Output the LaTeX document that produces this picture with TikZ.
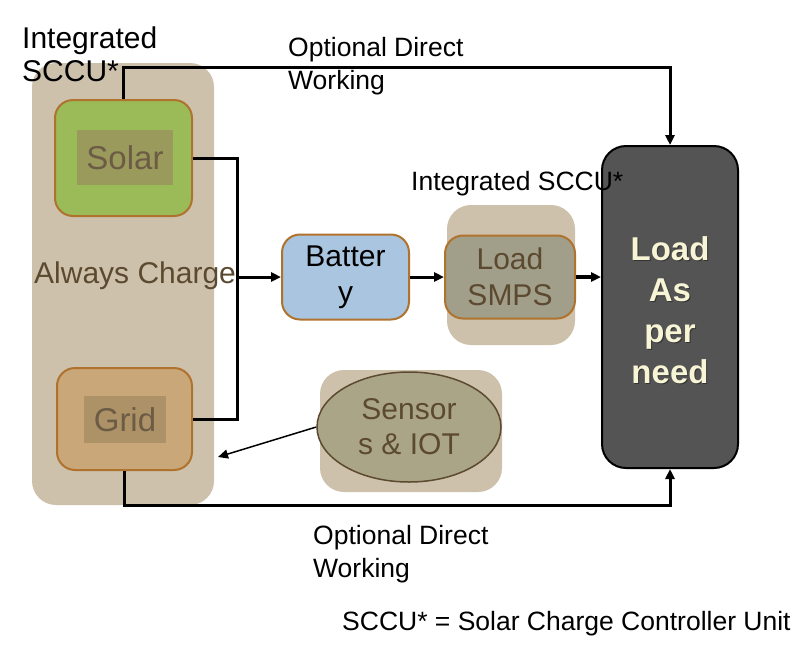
\documentclass[tikz,border=0pt]{standalone}
\usepackage{fontspec}
\setmainfont{Liberation Sans}
\usetikzlibrary{arrows.meta,shapes.geometric}
\definecolor{tan}{HTML}{CDC1AC}
\definecolor{boxedge}{HTML}{B0732E}
\definecolor{solarfill}{HTML}{9BBB59}
\definecolor{solarin}{HTML}{9A9A5C}
\definecolor{gridfill}{HTML}{C9A778}
\definecolor{gridin}{HTML}{AC9266}
\definecolor{battfill}{HTML}{A9C5DF}
\definecolor{smpsfill}{HTML}{A19E8A}
\definecolor{iotfill}{HTML}{ABA587}
\definecolor{darkbrown}{HTML}{5C4A30}
\definecolor{cream}{HTML}{F8F4D6}

\begin{document}
\begin{tikzpicture}[x=1pt,y=-1pt]
	\tikzset{
		group/.style={fill=tan,rounded corners=24pt,inner sep=0pt},
		box/.style={draw=boxedge,line width=2pt,rounded corners=18pt,inner sep=0pt,
			font=\fontsize{30}{36}\selectfont,align=center},
		inbox/.style={inner sep=0pt,font=\fontsize{33}{38}\selectfont,text=darkbrown!90},
		lbl/.style={inner sep=0pt,font=\fontsize{26.5}{33}\selectfont,align=left},
		wire/.style={line width=3pt},
		arr/.style={wire,-{Triangle[length=10pt,width=9pt]}}
	}
	\useasboundingbox (0,0) rectangle (793,657);
	% background groups
	\node[group,minimum width=182pt,minimum height=442pt] (sccu) at (123,284) {};
	\node[group,minimum width=128pt,minimum height=140pt] (smpsgroup) at (511,275) {};
	\node[group,minimum width=182pt,minimum height=122pt] (iotgroup) at (411,431) {};
	% blocks
	\node[box,fill=solarfill,minimum width=137pt,minimum height=116pt] (solar) at (123.5,158) {};
	\node[inbox,fill=solarin,minimum width=96pt,minimum height=55pt] (solartxt) at (125,157.5) {Solar};
	\node[box,fill=gridfill,minimum width=135pt,minimum height=102pt] (grid) at (124.5,419) {};
	\node[inbox,fill=gridin,minimum width=82pt,minimum height=47pt] (gridtxt) at (125,419.5) {Grid};
	\node[box,fill=battfill,minimum width=127pt,minimum height=85pt] (battery) at (345.5,277) {Batter\\y};
	\node[box,fill=smpsfill,text=darkbrown,minimum width=130pt,minimum height=83pt] (smps) at (510,277) {Load\\SMPS};
	\node[ellipse,draw=darkbrown,line width=1.5pt,fill=iotfill,text=darkbrown,minimum width=184pt,minimum height=110pt,
		inner sep=0pt,align=center,font=\fontsize{30}{35}\selectfont] (iot) at (409,427) {Sensor\\s \& IOT};
	\node[draw=black,line width=2pt,fill=black!67,rounded corners=24pt,minimum width=136pt,minimum height=322pt] (load) at (670,307) {};
	\node[text=black!80,align=center,font=\fontsize{33}{41}\bfseries] (loadshadow) at (671,311) {Load\\As\\per\\need};
	\node[text=cream,align=center,font=\fontsize{33}{41}\bfseries] (loadtxt) at (670,310) {Load\\As\\per\\need};
	% connectors
	\coordinate (bus) at (237,277);
	\coordinate (iotend) at (218,457);
	\draw[arr] (solar.north) -- ++(0,-32) -| (load.north);
	\draw[wire] (solar.east) -| (bus) |- (grid.east);
	\draw[arr] (bus) -- (battery.west);
	\draw[arr] (battery.east) -- (smps.west);
	\draw[arr,line width=4.5pt] (smps.east) -- (smps.east -| load.west);
	\draw[-{Triangle[length=10pt,width=9pt]},line width=1.5pt] (iot.west) -- (iotend);
	\draw[arr] (grid.south) -- ++(0,34) -| (load.south);
	% texts
	\node[lbl,anchor=north west,font=\fontsize{30}{33}\selectfont] (sccutitle) at (22,27) {Integrated\\SCCU*};
	\node[lbl,anchor=north west] (toplbl) at (288,37) {Optional Direct\\Working};
	\node[lbl,anchor=north west] (botlbl) at (313,525) {Optional Direct\\Working};
	\node[lbl,anchor=west] (smpslbl) at (411,184) {Integrated SCCU*};
	\node[lbl,anchor=west,text=darkbrown,font=\fontsize{30}{33}\selectfont] (always) at (34,276) {Always Charge};
	\node[lbl,anchor=west] (note) at (342,624) {SCCU* = Solar Charge Controller Unit};
\end{tikzpicture}
\end{document}
